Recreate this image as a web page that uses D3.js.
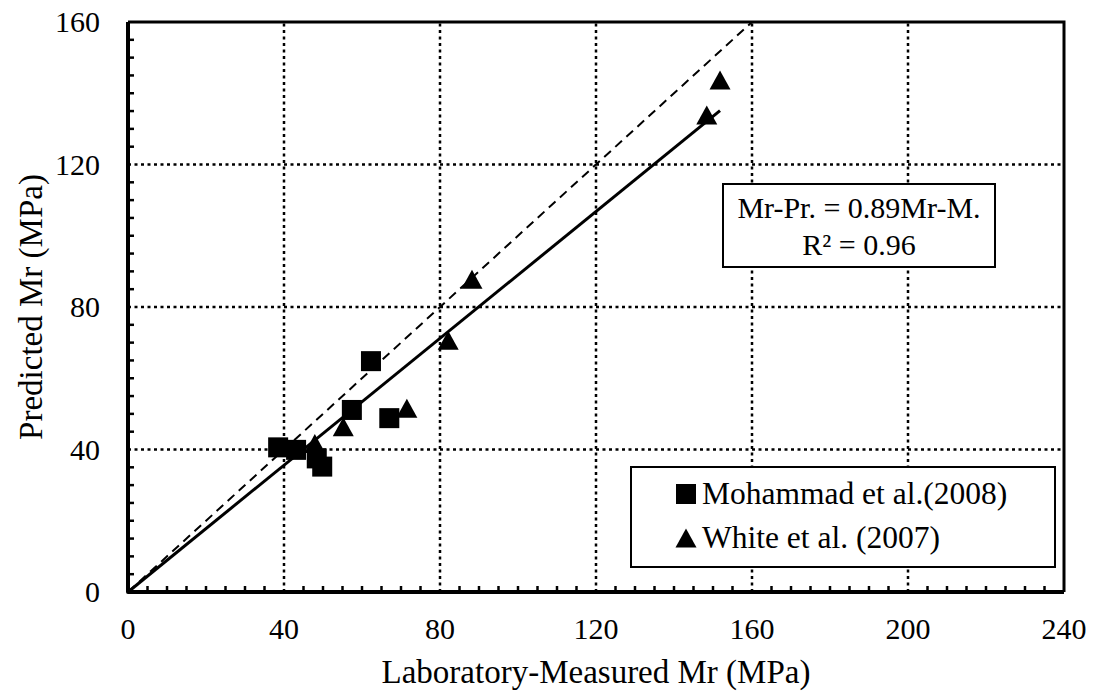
<!DOCTYPE html>
<html>
<head>
<meta charset="utf-8">
<script src="https://cdn.jsdelivr.net/npm/d3@7"></script>
<style>
  body { margin: 0; background: #fff; }
</style>
</head>
<body>
<div id="chart"></div>
<script>
// Mohammad et al. (2008) - squares
var mohammadX = [62.3, 57.4, 67.0, 38.5, 43.1, 48.4, 49.8];
var mohammadY = [64.8, 51.1, 48.8, 40.6, 39.9, 37.5, 35.2];
// White et al. (2007) - triangles
var whiteX = [148.4, 151.8, 88.2, 82.1, 71.5, 55.2, 47.9];
var whiteY = [133.9, 143.7, 87.8, 70.7, 51.6, 46.4, 41.7];

var xTicks = [0, 40, 80, 120, 160, 200, 240];
var yTicks = [0, 40, 80, 120, 160];
var seriesNames = ["Mohammad et al.(2008)", "White et al. (2007)"];
var slope = 0.89;
var equationLines = ["Mr-Pr. = 0.89Mr-M.", "R\u00b2 = 0.96"];

var width = 1093, height = 695;
var margin = { left: 128, right: 1093 - 1064, top: 22, bottom: 695 - 592 };
var serif = '"Times New Roman", "Liberation Serif", "DejaVu Serif", serif';

var svg = d3.select('#chart').append('svg')
    .attr('width', width)
    .attr('height', height)
    .attr('font-family', serif);

var x = d3.scaleLinear().domain([0, 240]).range([margin.left, width - margin.right]);
var y = d3.scaleLinear().domain([0, 160]).range([height - margin.bottom, margin.top]);

var tickFont = 30, titleFont = 33, legendFont = 31.5;

// gridlines
svg.append('g').selectAll('line')
    .data(xTicks.filter(function(d) { return d > 0 && d < 240; }))
    .enter().append('line')
    .attr('x1', function(d) { return x(d); })
    .attr('x2', function(d) { return x(d); })
    .attr('y1', y(0))
    .attr('y2', y(160))
    .attr('stroke', '#000')
    .attr('stroke-width', 2.5)
    .attr('stroke-dasharray', '3,3.5');

svg.append('g').selectAll('line')
    .data(yTicks.filter(function(d) { return d > 0 && d < 160; }))
    .enter().append('line')
    .attr('x1', x(0))
    .attr('x2', x(240))
    .attr('y1', function(d) { return y(d); })
    .attr('y2', function(d) { return y(d); })
    .attr('stroke', '#000')
    .attr('stroke-width', 2.5)
    .attr('stroke-dasharray', '3,3.5');

// minor ticks (inside), every 5
var xMinor = d3.range(5, 240, 5).filter(function(d) { return d % 40 !== 0; });
var yMinor = d3.range(5, 160, 5).filter(function(d) { return d % 40 !== 0; });

svg.append('g').selectAll('line')
    .data(xMinor).enter().append('line')
    .attr('x1', function(d) { return x(d); })
    .attr('x2', function(d) { return x(d); })
    .attr('y1', y(0))
    .attr('y2', y(0) - 6)
    .attr('stroke', '#000')
    .attr('stroke-width', 2.5);

svg.append('g').selectAll('line')
    .data(yMinor).enter().append('line')
    .attr('x1', x(0))
    .attr('x2', x(0) + 6)
    .attr('y1', function(d) { return y(d); })
    .attr('y2', function(d) { return y(d); })
    .attr('stroke', '#000')
    .attr('stroke-width', 2.5);

// plot border (top / right)
svg.append('path')
    .attr('d', 'M' + x(0) + ',' + y(160) + 'H' + x(240) + 'V' + y(0))
    .attr('fill', 'none')
    .attr('stroke', '#000')
    .attr('stroke-width', 3);

// axes lines
svg.append('path')
    .attr('d', 'M' + x(0) + ',' + y(160) + 'V' + y(0) + 'H' + x(240))
    .attr('fill', 'none')
    .attr('stroke', '#000')
    .attr('stroke-width', 4)
    .attr('stroke-linejoin', 'round');

// tick labels
svg.append('g').selectAll('text')
    .data(xTicks).enter().append('text')
    .attr('x', function(d) { return x(d); })
    .attr('y', y(0) + 47)
    .attr('text-anchor', 'middle')
    .style('font-size', tickFont + 'px')
    .text(function(d) { return d; });

svg.append('g').selectAll('text')
    .data(yTicks).enter().append('text')
    .attr('x', x(0) - 28)
    .attr('y', function(d) { return y(d) + 10; })
    .attr('text-anchor', 'end')
    .style('font-size', tickFont + 'px')
    .text(function(d) { return d; });

// axis titles
svg.append('text')
    .attr('x', (x(0) + x(240)) / 2)
    .attr('y', y(0) + 91)
    .attr('text-anchor', 'middle')
    .style('font-size', titleFont + 'px')
    .text('Laboratory-Measured Mr (MPa)');

svg.append('text')
    .attr('transform', 'translate(42,' + (y(0) + y(160)) / 2 + ') rotate(-90)')
    .attr('text-anchor', 'middle')
    .style('font-size', titleFont + 'px')
    .text('Predicted Mr (MPa)');

// 1:1 dashed line
svg.append('line')
    .attr('x1', x(0)).attr('y1', y(0))
    .attr('x2', x(160)).attr('y2', y(160))
    .attr('stroke', '#000')
    .attr('stroke-width', 2)
    .attr('stroke-dasharray', '9,6');

// trend line
var allX = mohammadX.concat(whiteX);
var maxX = d3.max(allX);
svg.append('line')
    .attr('x1', x(0)).attr('y1', y(0))
    .attr('x2', x(maxX)).attr('y2', y(slope * maxX))
    .attr('stroke', '#000')
    .attr('stroke-width', 3);

// markers
var squareSize = 20;
svg.append('g').selectAll('rect')
    .data(d3.range(mohammadX.length)).enter().append('rect')
    .attr('x', function(i) { return x(mohammadX[i]) - squareSize / 2; })
    .attr('y', function(i) { return y(mohammadY[i]) - squareSize / 2; })
    .attr('width', squareSize)
    .attr('height', squareSize)
    .attr('fill', '#000');

function triPath(cx, cy) {
    var w = 21, h = 19;
    return 'M' + cx + ',' + (cy - h / 2) + 'L' + (cx + w / 2) + ',' + (cy + h / 2) +
        'L' + (cx - w / 2) + ',' + (cy + h / 2) + 'Z';
}
svg.append('g').selectAll('path')
    .data(d3.range(whiteX.length)).enter().append('path')
    .attr('d', function(i) { return triPath(x(whiteX[i]), y(whiteY[i])); })
    .attr('fill', '#000');

// equation box
var eqBox = { x: 723, y: 184, w: 272, h: 83 };
svg.append('rect')
    .attr('x', eqBox.x).attr('y', eqBox.y)
    .attr('width', eqBox.w).attr('height', eqBox.h)
    .attr('fill', '#fff')
    .attr('stroke', '#000')
    .attr('stroke-width', 2);
svg.append('g').selectAll('text')
    .data(equationLines).enter().append('text')
    .attr('x', eqBox.x + eqBox.w / 2)
    .attr('y', function(d, i) { return 218 + i * 37; })
    .attr('text-anchor', 'middle')
    .style('font-size', tickFont + 'px')
    .text(function(d) { return d; });

// legend
var legBox = { x: 631, y: 467, w: 424, h: 100 };
svg.append('rect')
    .attr('x', legBox.x).attr('y', legBox.y)
    .attr('width', legBox.w).attr('height', legBox.h)
    .attr('fill', '#fff')
    .attr('stroke', '#000')
    .attr('stroke-width', 2);

var legRows = [494, 538];
svg.append('rect')
    .attr('x', 686 - squareSize / 2).attr('y', legRows[0] - squareSize / 2)
    .attr('width', squareSize).attr('height', squareSize)
    .attr('fill', '#000');
svg.append('path')
    .attr('d', triPath(686, legRows[1]))
    .attr('fill', '#000');

svg.append('g').selectAll('text')
    .data(seriesNames).enter().append('text')
    .attr('x', 702)
    .attr('y', function(d, i) { return legRows[i] + 10; })
    .style('font-size', legendFont + 'px')
    .text(function(d) { return d; });
</script>
</body>
</html>
